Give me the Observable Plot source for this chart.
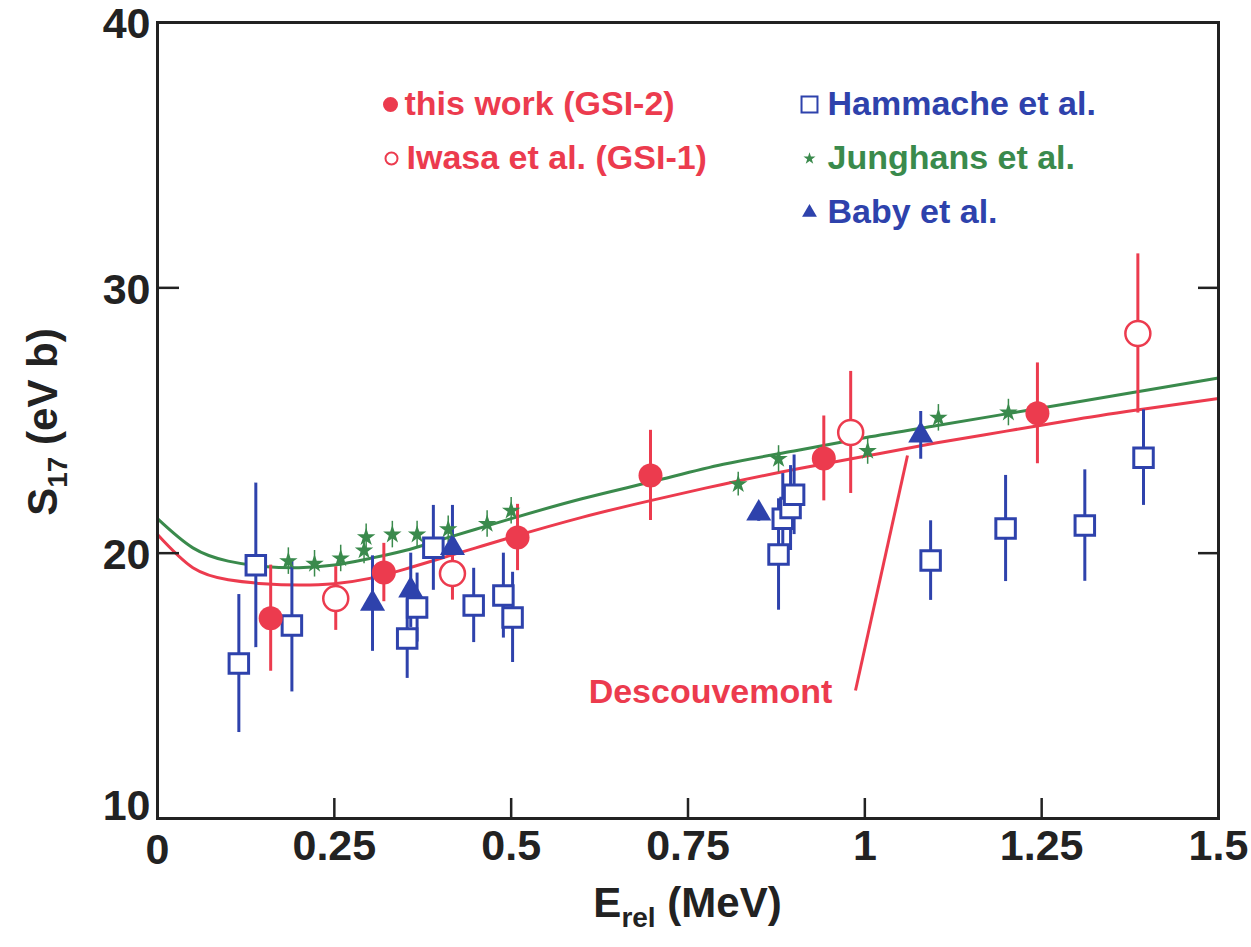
<!DOCTYPE html>
<html><head><meta charset="utf-8">
<script src="https://cdn.jsdelivr.net/npm/d3@7"></script>
<script src="https://cdn.jsdelivr.net/npm/@observablehq/plot@0.6"></script>
<style>body{margin:0;background:#fff} svg{display:block}</style>
</head><body><div id="chart"></div>
<script>
// ---- data ----
const thisWorkE = [0.16, 0.32, 0.509, 0.697, 0.942, 1.244];
const thisWorkS = [17.55, 19.27, 20.59, 22.93, 23.57, 25.27];
const thisWorkErr = [2.0, 1.1, 1.25, 1.7, 1.6, 1.9];

const iwasaE = [0.252, 0.417, 0.98, 1.386];
const iwasaS = [18.29, 19.23, 24.55, 28.28];
const iwasaErr = [1.2, 1.0, 2.3, 3.0];

const hammacheE = [0.115, 0.139, 0.19, 0.353, 0.367, 0.39, 0.447, 0.489, 0.502, 0.878, 0.884, 0.895, 0.90, 1.093, 1.199, 1.311, 1.394];
const hammacheS = [15.84, 19.54, 17.27, 16.78, 17.95, 20.2, 18.03, 18.4, 17.58, 19.95, 21.3, 21.7, 22.2, 19.72, 20.93, 21.04, 23.6];
const hammacheErr = [2.6, 3.1, 2.5, 1.5, 1.3, 1.6, 1.4, 1.6, 1.7, 2.1, 1.7, 1.6, 1.5, 1.5, 2.0, 2.1, 1.8];

const junghansE = [0.185, 0.222, 0.259, 0.292, 0.295, 0.332, 0.367, 0.411, 0.466, 0.50, 0.821, 0.878, 1.004, 1.104, 1.203];
const junghansS = [19.7, 19.6, 19.8, 20.1, 20.6, 20.7, 20.7, 20.9, 21.1, 21.6, 22.6, 23.55, 23.85, 25.1, 25.3];
const junghansErr = [0.5, 0.5, 0.5, 0.5, 0.5, 0.5, 0.5, 0.5, 0.5, 0.5, 0.45, 0.5, 0.5, 0.5, 0.5];

const babyE = [0.304, 0.358, 0.417, 0.85, 1.079];
const babyS = [18.1, 18.6, 20.2, 21.5, 24.44];
const babyErr = [1.8, 1.4, 1.6, 0.3, 0.9];

const curveE = [0, 0.05, 0.1, 0.15, 0.2, 0.25, 0.3, 0.35, 0.4, 0.45, 0.5, 0.6, 0.7, 0.8, 0.9, 1.0, 1.1, 1.2, 1.3, 1.4, 1.5];
const descouvemontS = [20.7, 19.45, 19.0, 18.85, 18.8, 18.85, 19.05, 19.4, 19.8, 20.2, 20.6, 21.35, 22.0, 22.6, 23.15, 23.65, 24.15, 24.6, 25.05, 25.45, 25.83];
const junghansFitS = [21.3, 20.2, 19.7, 19.5, 19.45, 19.55, 19.8, 20.1, 20.5, 20.9, 21.3, 22.05, 22.7, 23.35, 23.85, 24.35, 24.8, 25.25, 25.7, 26.15, 26.6];

const xTicks = [0, 0.25, 0.5, 0.75, 1, 1.25, 1.5];
const xTickLabels = ["0", "0.25", "0.5", "0.75", "1", "1.25", "1.5"];
const yTicks = [10, 20, 30, 40];
const yTickLabels = ["10", "20", "30", "40"];

const legendLabels = ["this work (GSI-2)", "Iwasa et al. (GSI-1)", "Hammache et al.", "Junghans et al.", "Baby et al."];
const annotationLabel = "Descouvemont";

// ---- styles ----
const RED = "#ec3b4e", BLUE = "#2e42ac", GREEN = "#3a8a4c", INK = "#222";
const FONT = "'Liberation Sans', Arial, Helvetica, sans-serif";
const W = 1251, H = 947, mL = 157, mR = 33, mT = 22, mB = 129;
const plotW = W - mL - mR, plotH = H - mT - mB;

const zip = (E, S, Err) => E.map((e, i) => ({e, s: S[i], err: Err ? Err[i] : 0}));
const thisWork = zip(thisWorkE, thisWorkS, thisWorkErr);
const iwasa = zip(iwasaE, iwasaS, iwasaErr);
const hammache = zip(hammacheE, hammacheS, hammacheErr);
const junghans = zip(junghansE, junghansS, junghansErr);
const baby = zip(babyE, babyS, babyErr);
const desc = zip(curveE, descouvemontS);
const jfit = zip(curveE, junghansFitS);

// legend & annotation placement (pixel anchors converted to data units)
const px2x = p => (p - mL) / plotW * 1.5;
const py2y = p => 10 + (H - mB - p) / plotH * 30;
const legend = [
  {label: legendLabels[0], color: RED, symbol: "circle", fill: RED, stroke: RED, r: 6.5, mx: 390, tx: 404, py: 104},
  {label: legendLabels[1], color: RED, symbol: "circle", fill: "white", stroke: RED, r: 6, mx: 391, tx: 406, py: 158},
  {label: legendLabels[2], color: BLUE, symbol: "square", fill: "white", stroke: BLUE, r: 9, mx: 809, tx: 827, py: 104},
  {label: legendLabels[3], color: GREEN, symbol: "star", fill: GREEN, stroke: "none", r: 3.8, mx: 809, tx: 827, py: 158},
  {label: legendLabels[4], color: BLUE, symbol: "triangle", fill: BLUE, stroke: "none", r: 5.5, mx: 809, tx: 827, py: 212}
].map(d => ({...d, x: px2x(d.mx), xt: px2x(d.tx), y: py2y(d.py)}));
const annot = [{text: annotationLabel, x: px2x(710), y: py2y(692), x1: px2x(855), y1: py2y(690), x2: px2x(907), y2: py2y(455)}];

const errBar = (data, color, w) => Plot.ruleX(data, {x: "e", y1: d => d.s - d.err, y2: d => d.s + d.err, stroke: color, strokeWidth: w});
const legendDots = legend.map(d => Plot.dot([d], {x: "x", y: "y", symbol: d.symbol, r: d.r, fill: d.fill, stroke: d.stroke, strokeWidth: 2}));

const xFmt = d => xTickLabels[xTicks.indexOf(d)];
const yFmt = d => yTickLabels[yTicks.indexOf(d)];

const chart = Plot.plot({
  width: W, height: H,
  marginLeft: mL, marginRight: mR, marginTop: mT, marginBottom: mB,
  style: {fontFamily: FONT, background: "white", color: INK},
  x: {domain: [0, 1.5]},
  y: {domain: [10, 40]},
  marks: [
    Plot.line(jfit, {x: "e", y: "s", stroke: GREEN, strokeWidth: 3, curve: "natural"}),
    Plot.line(desc, {x: "e", y: "s", stroke: RED, strokeWidth: 3, curve: "natural"}),
    Plot.link(annot, {x1: "x1", y1: "y1", x2: "x2", y2: "y2", stroke: RED, strokeWidth: 3}),
    Plot.text(annot, {x: "x", y: "y", text: "text", fill: RED, fontSize: 34, fontWeight: "bold"}),
    errBar(hammache, BLUE, 3),
    errBar(baby, BLUE, 3),
    errBar(junghans, GREEN, 1.5),
    errBar(thisWork, RED, 3),
    errBar(iwasa, RED, 3),
    Plot.dot(hammache, {x: "e", y: "s", symbol: "square", r: 11, fill: "white", stroke: BLUE, strokeWidth: 3}),
    Plot.dot(baby, {x: "e", y: "s", symbol: "triangle", r: 9.3, fill: BLUE}),
    Plot.dot(junghans, {x: "e", y: "s", symbol: "star", r: 5.8, fill: GREEN}),
    Plot.dot(iwasa, {x: "e", y: "s", symbol: "circle", r: 12.5, fill: "white", stroke: RED, strokeWidth: 2.5}),
    Plot.dot(thisWork, {x: "e", y: "s", symbol: "circle", r: 12, fill: RED}),
    // legend
    ...legendDots,
    Plot.text(legend, {x: "xt", y: "y", text: "label", fill: "color", textAnchor: "start", fontSize: 34, fontWeight: "bold"}),
    // inward ticks
    Plot.tickX(xTicks.slice(1, -1), {x: d => d, insetTop: plotH - 20, stroke: INK, strokeWidth: 2.5}),
    Plot.tickY(yTicks.slice(1, -1), {y: d => d, insetRight: plotW - 22, stroke: INK, strokeWidth: 2.5}),
    Plot.tickY(yTicks.slice(1, -1), {y: d => d, insetLeft: plotW - 20, stroke: INK, strokeWidth: 2.5}),
    Plot.frame({stroke: INK, strokeWidth: 3}),
    Plot.axisX({ticks: xTicks.slice(1), tickFormat: xFmt, tickSize: 0, tickPadding: 11, fontSize: 43, fontWeight: "bold", label: null, fill: INK}),
    Plot.axisX({ticks: xTicks.slice(0, 1), tickFormat: xFmt, tickSize: 0, tickPadding: 15, fontSize: 43, fontWeight: "bold", label: null, fill: INK}),
    Plot.axisY({ticks: yTicks.slice(1), tickFormat: yFmt, tickSize: 0, tickPadding: 7, dy: 2, fontSize: 43, fontWeight: "bold", label: null, fill: INK}),
    Plot.axisY({ticks: yTicks.slice(0, 1), tickFormat: yFmt, tickSize: 0, tickPadding: 7, dy: -12, fontSize: 43, fontWeight: "bold", label: null, fill: INK})
  ]
});

document.getElementById("chart").appendChild(chart);

// axis titles with subscripts
const svg = d3.select(chart);
const xt = svg.append("text")
  .attr("x", mL + plotW / 2).attr("y", 917)
  .attr("text-anchor", "middle").attr("font-family", FONT)
  .attr("font-size", 42).attr("font-weight", "bold").attr("fill", INK);
xt.append("tspan").text("E");
xt.append("tspan").attr("font-size", 28).attr("dy", 10).text("rel");
xt.append("tspan").attr("dy", -10).text(" (MeV)");

const yt = svg.append("text")
  .attr("transform", `translate(57, ${mT + 400}) rotate(-90)`)
  .attr("text-anchor", "middle").attr("font-family", FONT)
  .attr("font-size", 42).attr("font-weight", "bold").attr("fill", INK);
yt.append("tspan").text("S");
yt.append("tspan").attr("font-size", 28).attr("dy", 10).text("17");
yt.append("tspan").attr("dy", -10).text(" (eV b)");
</script></body></html>
